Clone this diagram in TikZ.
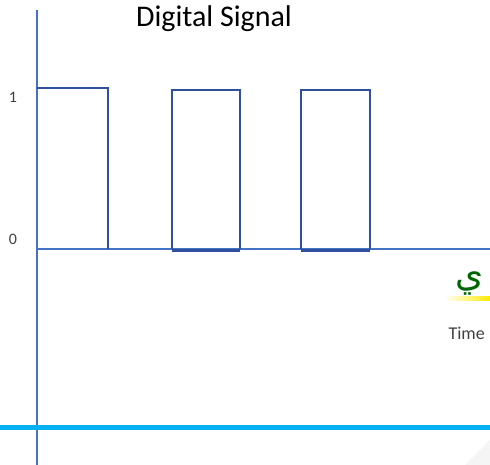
\documentclass[tikz,border=0pt]{standalone}
\usepackage{fontspec}
\setmainfont{Carlito}
\newfontfamily\arabicfont[Script=Arabic]{DejaVu Sans}
\TeXXeTstate=1
\definecolor{axisblue}{HTML}{4472C4}
\definecolor{sigblue}{HTML}{2F4F9F}
\definecolor{lineblue}{HTML}{00B0F0}
\tikzset{
  axis/.style={draw=axisblue, line width=2pt},
  signal/.style={draw=sigblue, line width=1.8pt, line join=miter},
  level/.style={text=black!75, font=\fontsize{16}{16}\selectfont}
}
\begin{document}
\begin{tikzpicture}[x=1pt,y=-1pt]
  \useasboundingbox (0,0) rectangle (490,465);

  % axes
  \draw[axis] (37,10) -- (37,465);
  \draw[axis] (37,249) -- (490,249);
  \draw[draw=lineblue, line width=5pt] (0,427) -- (490,427);

  % the signal
  \draw[signal] (37,88) -- (108,88) -- (108,249)
    (172,249) -- (172,90) -- (240,90) -- (240,249)
    (301,249) -- (301,90) -- (370,90) -- (370,249);
  \draw[signal, line width=3pt] (172,250.5) -- (240,250.5) (301,250.5) -- (370,250.5);

  % labels
  \node[font=\fontsize{30}{30}\selectfont] (title) at (214,19) {Digital Signal};
  \node[level] (one) at (13,97) {1};
  \node[level] (zero) at (13,239) {0};
  \node[text=black!75, font=\fontsize{18}{18}\selectfont, anchor=west] (time) at (445,333) {Time};

  \begin{scope}
    \clip (400,260) rectangle (490,320);
    \shade[left color=white, right color=yellow!85!orange] (444,296) rectangle (490,300);
    \node[text=green!40!black, font=\arabicfont\fontsize{36}{36}\selectfont, anchor=west] (mark) at (452,283) {\beginR ي\endR};
  \end{scope}

  \fill[black!4] (465,465) -- (490,440) -- (490,465) -- cycle;
\end{tikzpicture}
\end{document}
